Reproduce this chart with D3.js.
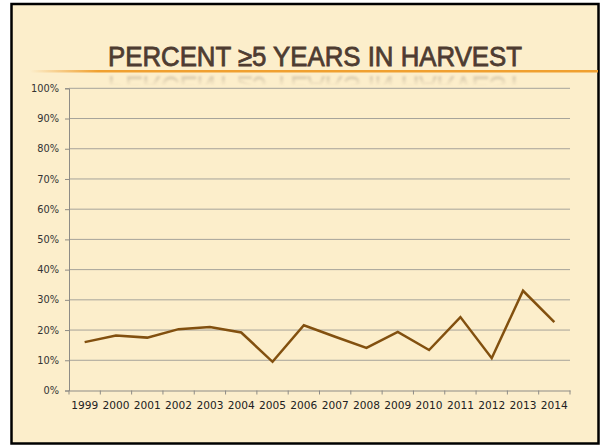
<!DOCTYPE html>
<html><head><meta charset="utf-8">
<script src="https://cdn.jsdelivr.net/npm/d3@7"></script>
<style>html,body{margin:0;padding:0;background:#fff;}svg{display:block;}</style>
</head><body>
<svg id="c" width="600" height="445"></svg>
<script>
const titleText = "PERCENT \u22655 YEARS IN HARVEST";
const years = ["1999","2000","2001","2002","2003","2004","2005","2006","2007","2008","2009","2010","2011","2012","2013","2014"];
const percentValues = [16.0,18.2,17.5,20.3,21.0,19.2,9.5,21.6,17.8,14.1,19.4,13.4,24.3,10.7,33.0,22.6];
const yTicks = [0,10,20,30,40,50,60,70,80,90,100];

(function(){
const svg = d3.select("#c");
const defs = svg.append("defs");
const lg = defs.append("linearGradient").attr("id","og").attr("x1","0").attr("x2","1");
lg.append("stop").attr("offset","0").attr("stop-color","#F0A030").attr("stop-opacity",0);
lg.append("stop").attr("offset","0.12").attr("stop-color","#F0A030").attr("stop-opacity",1);
lg.append("stop").attr("offset","1").attr("stop-color","#F0A030").attr("stop-opacity",1);
const rg = defs.append("linearGradient").attr("id","rg").attr("x1","0").attr("x2","0").attr("y1","0").attr("y2","1");
rg.append("stop").attr("offset","0").attr("stop-color","#fff").attr("stop-opacity",0.3);
rg.append("stop").attr("offset","0.7").attr("stop-color","#fff").attr("stop-opacity",0);
const mask = defs.append("mask").attr("id","rm").attr("maskUnits","userSpaceOnUse")
  .attr("x",0).attr("y",72).attr("width",600).attr("height",20);
mask.append("rect").attr("x",0).attr("y",72).attr("width",600).attr("height",20).attr("fill","url(#rg)");
defs.append("filter").attr("id","bl").append("feGaussianBlur").attr("stdDeviation",0.8);

svg.append("rect").attr("x",11.5).attr("y",4).attr("width",587).attr("height",439.5)
  .attr("fill","#FCEECB").attr("stroke","#000").attr("stroke-width",2.5);

const tFont = "'Liberation Sans',Arial,sans-serif";
svg.append("g").attr("mask","url(#rm)").append("text")
  .attr("transform","translate(0,143) scale(1,-1)").attr("filter","url(#bl)")
  .attr("x",108).attr("y",66).attr("font-family",tFont).attr("font-size",27)
  .attr("stroke","#4E3C31").attr("stroke-width",0.8)
  .attr("fill","#4E3C31").attr("textLength",414).attr("lengthAdjust","spacingAndGlyphs").text(titleText);
svg.append("rect").attr("x",30).attr("y",70).attr("width",568).attr("height",2.5).attr("fill","url(#og)");
svg.append("text").attr("x",108).attr("y",66).attr("font-family",tFont).attr("font-size",27)
  .attr("stroke","#4E3C31").attr("stroke-width",0.8)
  .attr("fill","#4E3C31").attr("textLength",414).attr("lengthAdjust","spacingAndGlyphs").text(titleText);

const pLeft = 69, pRight = 570, pTop = 88.3, pBottom = 390.5;
const x = d3.scaleBand().domain(years).range([pLeft,pRight]).paddingInner(0).paddingOuter(0);
const y = d3.scaleLinear().domain([0,100]).range([pBottom,pTop]);
const font = "'DejaVu Sans',Verdana,sans-serif";

svg.append("g").selectAll("line").data(yTicks.filter(d=>d>0)).join("line")
  .attr("x1",pLeft).attr("x2",pRight).attr("y1",d=>y(d)).attr("y2",d=>y(d))
  .attr("stroke","#A6A39A").attr("stroke-width",1);

const ya = svg.append("g").attr("transform",`translate(${pLeft},0)`)
  .call(d3.axisLeft(y).tickValues(yTicks).tickFormat(d=>d+"%").tickSize(4).tickPadding(6));
ya.select(".domain").attr("stroke","#8E8C86");
ya.selectAll(".tick line").attr("stroke","#8E8C86");
ya.selectAll("text").attr("font-family",font).attr("font-size",9.8).attr("fill","#333");

const xa = svg.append("g").attr("transform",`translate(0,${pBottom})`)
  .call(d3.axisBottom(x).tickSize(0).tickPadding(11));
xa.select(".domain").attr("stroke","#8E8C86");
xa.selectAll("text").attr("font-family",font).attr("font-size",10.6).attr("fill","#222");
svg.append("g").selectAll("line").data(d3.range(years.length+1)).join("line")
  .attr("x1",i=>pLeft+i*x.step()).attr("x2",i=>pLeft+i*x.step())
  .attr("y1",pBottom).attr("y2",pBottom+4).attr("stroke","#8E8C86");

const line = d3.line().x((d,i)=>x(years[i])+x.bandwidth()/2).y(d=>y(d));
svg.append("path").datum(percentValues).attr("d",line).attr("fill","none")
  .attr("stroke","#82500F").attr("stroke-width",2.5).attr("stroke-linejoin","miter");
})();
</script>
</body></html>
